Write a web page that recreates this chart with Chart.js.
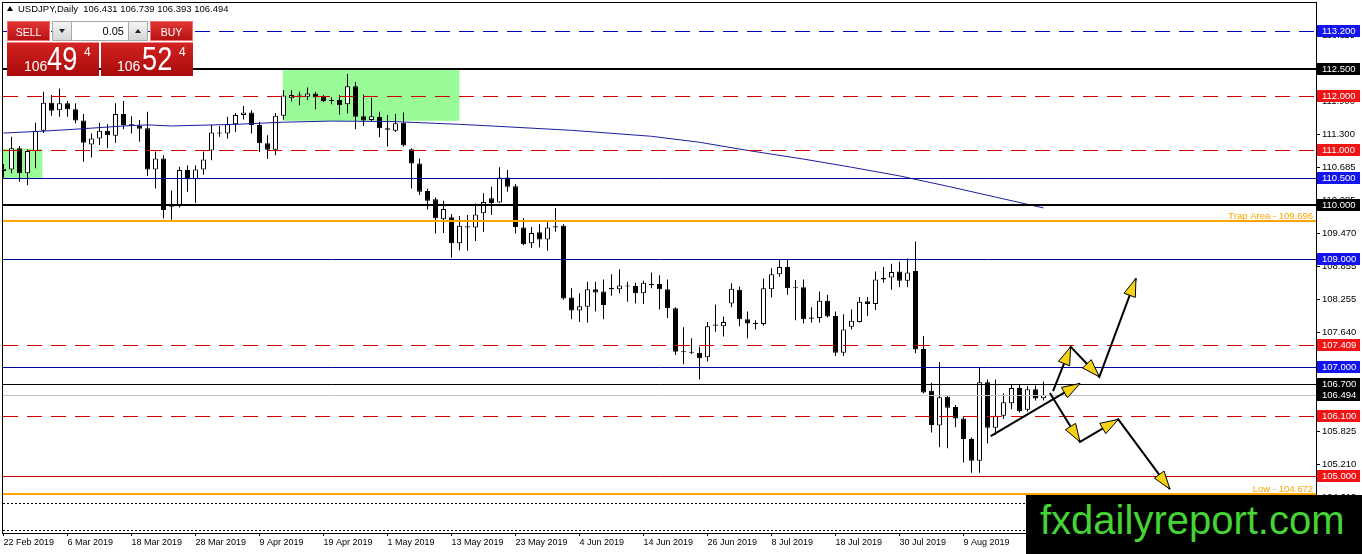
<!DOCTYPE html>
<html>
<head>
<meta charset="utf-8">
<title>USDJPY Daily</title>
<script src="https://cdn.jsdelivr.net/npm/chart.js@4.4.1/dist/chart.umd.min.js"></script>
<style>
  html, body { margin: 0; padding: 0; background: #fff; overflow: hidden; }
  #wrap { position: relative; width: 1362px; height: 554px; font-family: 'Liberation Sans', Arial, sans-serif; }
  canvas { display: block; }
  .abs { position: absolute; white-space: nowrap; }
  #title { left: 18px; top: 4px; font-size: 9.5px; line-height: 9.5px; color: #000; }
  #titleIcon { left: 7px; top: 6px; width: 0; height: 0; border-left: 3px solid transparent; border-right: 3px solid transparent; border-bottom: 5px solid #000; }
  .btn { top: 21px; height: 20px; width: 43px; color: #fff; font-size: 10.5px; line-height: 20px; text-align: center;
         background: linear-gradient(#e23434, #b51212); border: 1px solid #f07070; box-sizing: border-box; }
  .spin { top: 21px; width: 20px; height: 20px; background: linear-gradient(#f4f4f4, #d6d6d6); border: 1px solid #a8a8a8; box-sizing: border-box; }
  .spin i { position: absolute; left: 6px; width: 0; height: 0; border-left: 3px solid transparent; border-right: 3px solid transparent; }
  #lot { left: 72px; top: 21px; width: 56px; height: 20px; background: #fff; border-top: 1px solid #a8a8a8; border-bottom: 1px solid #a8a8a8; box-sizing: border-box;
         font-size: 11px; line-height: 18px; text-align: right; padding-right: 4px; color: #000; }
  .quote { top: 42px; width: 92px; height: 34px; background: linear-gradient(#d42222, #a80a0a); border-top: 1px solid #f08a8a; box-sizing: border-box; color: #fff; }
  .quote span { position: absolute; white-space: nowrap; }
  .fig { font-size: 14px; line-height: 14px; top: 16px; }
  .pips { font-size: 34px; line-height: 34px; top: -2px; transform: scaleX(0.8); transform-origin: left top; }
  .pt { font-size: 12px; line-height: 12px; top: 3px; }
  #mark { left: 1026px; top: 495px; width: 336px; height: 59px; background: #000; }
  #mark span { position: absolute; left: 14px; top: 5px; font-size: 40px; line-height: 40px; color: #45d435; }
</style>
</head>
<body>
<div id="wrap">
  <canvas id="usdjpyChart" width="1362" height="554"></canvas>

  <div id="titleIcon" class="abs"></div>
  <div id="title" class="abs">USDJPY,Daily&nbsp; 106.431 106.739 106.393 106.494</div>

  <div class="abs btn" style="left:7px;">SELL</div>
  <div class="abs spin" style="left:52px;"><i style="top:7px; border-top:4px solid #222;"></i></div>
  <div id="lot" class="abs">0.05</div>
  <div class="abs spin" style="left:128px;"><i style="top:7px; border-bottom:4px solid #222;"></i></div>
  <div class="abs btn" style="left:150px;">BUY</div>

  <div class="abs quote" style="left:7px;">
    <span class="fig" style="left:17px;">106</span>
    <span class="pips" style="left:40px;">49</span>
    <span class="pt" style="left:77px;">4</span>
  </div>
  <div class="abs quote" style="left:101px;">
    <span class="fig" style="left:16px;">106</span>
    <span class="pips" style="left:41px;">52</span>
    <span class="pt" style="left:78px;">4</span>
  </div>

  <div id="mark" class="abs"><span>fxdailyreport.com</span></div>
</div>

<script>
// --- DATOS (velas diarias USDJPY, 22 Feb 2019 - 23 Aug 2019) ---
const opens = [
  110.62, 110.65, 111.04, 110.58, 110.99, 111.36, 111.88, 111.74, 111.87, 111.76,
  111.55, 111.11, 111.22, 111.36, 111.27, 111.67, 111.48, 111.45, 111.41, 110.65,
  110.85, 109.96, 109.97, 110.64, 110.47, 110.65, 111.00, 111.33, 111.31, 111.48,
  111.65, 111.70, 111.47, 111.13, 111.01, 111.64, 111.96, 112.01, 111.99, 112.05,
  111.99, 111.92, 111.93, 111.85, 112.18, 111.63, 111.56, 111.62, 111.41, 111.36,
  111.51, 111.02, 110.76, 110.25, 110.10, 109.73, 109.77, 109.29, 109.60, 109.58,
  109.84, 110.12, 110.04, 110.50, 110.34, 109.58, 109.29, 109.49, 109.36, 109.58,
  109.61, 108.29, 108.05, 108.12, 108.44, 108.40, 108.47, 108.44, 108.51, 108.50,
  108.37, 108.54, 108.54, 108.44, 108.09, 107.30, 107.29, 107.27, 107.19, 107.77,
  107.76, 108.18, 108.43, 107.89, 107.80, 107.80, 108.44, 108.72, 108.85, 108.48,
  108.48, 107.90, 107.91, 108.23, 107.95, 107.27, 107.75, 107.84, 108.22, 108.17,
  108.62, 108.66, 108.77, 108.60, 108.78, 107.34, 106.57, 105.93, 106.46, 106.27,
  106.06, 105.68, 105.28, 106.73, 105.89, 106.11, 106.34, 106.62, 106.22, 106.60,
  106.431
];
const highs = [
  110.75, 111.25, 111.08, 111.02, 111.51, 112.08, 112.02, 112.14, 111.91, 111.87,
  111.67, 111.31, 111.51, 111.48, 111.87, 111.91, 111.63, 111.56, 111.71, 110.98,
  110.91, 110.26, 110.70, 110.72, 110.72, 110.98, 111.47, 111.45, 111.62, 111.69,
  111.82, 111.74, 111.53, 111.28, 111.69, 112.11, 112.11, 112.08, 112.16, 112.08,
  112.02, 111.98, 112.02, 112.41, 112.26, 112.03, 111.97, 111.71, 111.65, 111.67,
  111.70, 111.04, 110.85, 110.30, 110.13, 110.07, 109.83, 109.79, 109.81, 110.02,
  110.21, 110.33, 110.69, 110.64, 110.38, 109.75, 109.59, 109.64, 109.69, 109.94,
  109.64, 108.46, 108.37, 108.58, 108.58, 108.62, 108.72, 108.81, 108.58, 108.56,
  108.60, 108.75, 108.70, 108.62, 108.11, 107.74, 107.54, 107.38, 107.84, 108.16,
  107.94, 108.55, 108.49, 108.03, 107.87, 108.64, 108.83, 108.99, 108.99, 108.61,
  108.62, 108.11, 108.40, 108.34, 108.03, 107.98, 108.07, 108.30, 108.30, 108.77,
  108.85, 108.91, 108.95, 109.01, 109.32, 107.58, 106.72, 107.10, 106.48, 106.31,
  106.10, 105.71, 107.00, 106.78, 106.78, 106.52, 106.69, 106.69, 106.66, 106.67,
  106.739
];
const lows = [
  110.50, 110.58, 110.42, 110.36, 110.67, 111.32, 111.64, 111.62, 111.62, 111.50,
  110.79, 110.87, 111.10, 111.04, 111.14, 111.39, 111.31, 111.16, 110.53, 110.30,
  109.75, 109.72, 109.95, 110.24, 110.03, 110.55, 110.82, 111.25, 111.22, 111.34,
  111.57, 111.31, 110.97, 110.84, 110.91, 111.57, 111.90, 111.83, 111.93, 111.76,
  111.89, 111.85, 111.66, 111.68, 111.39, 111.45, 111.53, 111.24, 111.07, 111.34,
  111.07, 110.30, 110.18, 109.91, 109.47, 109.48, 109.02, 109.16, 109.15, 109.33,
  109.50, 109.81, 110.03, 110.24, 109.47, 109.25, 109.20, 109.21, 109.15, 109.50,
  108.25, 107.89, 107.84, 107.83, 108.03, 107.89, 108.32, 108.37, 108.21, 108.18,
  108.17, 108.46, 108.07, 107.91, 107.23, 107.06, 107.25, 106.78, 107.11, 107.66,
  107.57, 108.11, 107.76, 107.54, 107.70, 107.77, 108.29, 108.67, 108.34, 107.87,
  107.81, 107.83, 107.83, 107.92, 107.21, 107.21, 107.70, 107.83, 107.95, 108.06,
  108.56, 108.43, 108.48, 108.48, 107.26, 106.52, 105.80, 105.53, 105.51, 105.90,
  105.25, 105.06, 105.06, 105.60, 105.76, 106.05, 106.23, 106.17, 106.19, 106.39,
  106.393
];
const closes = [
  110.66, 111.04, 110.58, 110.99, 111.36, 111.88, 111.73, 111.87, 111.76, 111.55,
  111.14, 111.22, 111.36, 111.28, 111.67, 111.47, 111.45, 111.40, 110.65, 110.85,
  109.90, 109.99, 110.64, 110.47, 110.65, 110.83, 111.33, 111.31, 111.48, 111.65,
  111.70, 111.47, 111.13, 111.01, 111.64, 112.01, 112.02, 112.03, 112.05, 111.98,
  111.91, 111.91, 111.83, 112.18, 111.62, 111.55, 111.63, 111.41, 111.38, 111.50,
  111.09, 110.76, 110.24, 110.07, 109.75, 109.92, 109.29, 109.61, 109.58, 109.82,
  110.05, 110.03, 110.50, 110.33, 109.59, 109.27, 109.48, 109.36, 109.58, 109.60,
  108.27, 108.05, 108.13, 108.44, 108.38, 108.15, 108.44, 108.51, 108.49, 108.37,
  108.56, 108.52, 108.44, 108.09, 107.29, 107.28, 107.27, 107.17, 107.76, 107.79,
  107.84, 108.45, 107.89, 107.81, 107.82, 108.46, 108.72, 108.85, 108.46, 108.46,
  107.89, 107.92, 108.23, 107.94, 107.27, 107.70, 107.86, 108.21, 108.17, 108.62,
  108.65, 108.76, 108.60, 108.75, 107.33, 106.54, 105.94, 106.45, 106.26, 106.06,
  105.68, 105.28, 106.73, 105.89, 106.11, 106.36, 106.62, 106.20, 106.60, 106.43,
  106.494
];

const maIdx = [0, 5, 10, 15, 18, 21, 29, 35, 41, 49, 57, 61, 71, 81, 87, 93, 100, 106, 112, 118, 124, 130];
const maVal = [111.32, 111.355, 111.40, 111.45, 111.47, 111.45, 111.48, 111.52, 111.54, 111.53, 111.48, 111.45,
               111.37, 111.26, 111.15, 111.00, 110.84, 110.69, 110.53, 110.34, 110.14, 109.94];

// eje de fechas: índice de vela y texto
const dateIdx = [0, 8, 16, 24, 32, 40, 48, 56, 64, 72, 80, 88, 96, 104, 112, 120];
const dateLabels = ['22 Feb 2019', '6 Mar 2019', '18 Mar 2019', '28 Mar 2019', '9 Apr 2019', '19 Apr 2019',
  '1 May 2019', '13 May 2019', '23 May 2019', '4 Jun 2019', '14 Jun 2019', '26 Jun 2019',
  '8 Jul 2019', '18 Jul 2019', '30 Jul 2019', '9 Aug 2019'];

// eje de precios
const priceTicks = [104.61, 105.21, 105.825, 106.425, 107.025, 107.64, 108.255, 108.855,
  109.47, 110.085, 110.685, 111.3, 111.9, 112.5, 113.115];

// niveles horizontales y su tipo
const levelPrices = [113.2, 112.5, 112.0, 111.0, 110.5, 110.0, 109.696, 109.0, 107.409,
  107.0, 106.7, 106.494, 106.1, 105.0, 104.672, 104.5, 104.0];
const levelKinds = ['blueDash', 'blackBold', 'redDash', 'redDash', 'blue', 'blackBold', 'orange', 'blue', 'redDash',
  'blue', 'black', 'bid', 'redDash', 'red', 'orange', 'dot', 'dot'];
const levelNotes = { 109.696: 'Trap Area - 109.696', 104.672: 'Low - 104.672' };

// zonas verdes: [vela desde, vela hasta, precio alto, precio bajo]
const zones = [
  [-1, 4.85, 111.03, 110.49],
  [34.9, 57.0, 112.48, 111.545]
];

// flechas de escenario: puntos (vela, precio)
const arrowPaths = [
  [[123.4, 105.735], [134.56, 106.706]],
  [[131.19, 106.564], [133.4, 107.38], [136.98, 106.828], [141.56, 108.641]],
  [[130.8, 106.528], [134.56, 105.63], [139.35, 106.043], [145.8, 104.76]]
];

// --- ESTILOS ---
const FONT = "'Liberation Sans', Arial, sans-serif";
const lineStyles = {
  blueDash:  { color: '#0000c8', width: 1, dash: [15, 9], box: '#1414f0' },
  blackBold: { color: '#000000', width: 2, dash: [],      box: '#000000' },
  redDash:   { color: '#d20000', width: 1, dash: [15, 9], box: '#f01414' },
  blue:      { color: '#00009c', width: 1, dash: [],      box: '#1414f0' },
  orange:    { color: '#ffa500', width: 2, dash: [],      box: null },
  black:     { color: '#000000', width: 1, dash: [],      box: '#000000' },
  bid:       { color: '#c0c0c0', width: 1, dash: [],      box: '#000000' },
  red:       { color: '#d20000', width: 1, dash: [],      box: '#f01414' },
  dot:       { color: '#000000', width: 1, dash: [2, 2],  box: null }
};

const bodyData = opens.map((o, i) => ({ x: i, y: [o, closes[i]] }));
const wickData = lows.map((l, i) => ({ x: i, y: [l, highs[i]] }));
const maData = maIdx.map((v, i) => ({ x: v, y: maVal[i] }));

function arrowHead(ctx, x0, y0, x1, y1) {
    const ang = Math.atan2(y1 - y0, x1 - x0);
    const len = 18, half = 6;
    const bx = x1 - len * Math.cos(ang), by = y1 - len * Math.sin(ang);
    ctx.beginPath();
    ctx.moveTo(x1, y1);
    ctx.lineTo(bx + half * Math.sin(ang), by - half * Math.cos(ang));
    ctx.lineTo(bx - half * Math.sin(ang), by + half * Math.cos(ang));
    ctx.closePath();
    ctx.fillStyle = '#f5d312';
    ctx.fill();
    ctx.lineWidth = 1;
    ctx.strokeStyle = '#000';
    ctx.stroke();
}

const zonesPlugin = {
    id: 'zones',
    beforeDatasetsDraw(chart) {
        const { ctx, chartArea: a, scales: { x, y } } = chart;
        ctx.save();
        ctx.beginPath();
        ctx.rect(a.left, a.top, a.right - a.left, a.bottom - a.top);
        ctx.clip();
        ctx.fillStyle = '#98fb98';
        zones.forEach(z => {
            const x0 = x.getPixelForValue(z[0]), x1 = x.getPixelForValue(z[1]);
            const y0 = y.getPixelForValue(z[2]), y1 = y.getPixelForValue(z[3]);
            ctx.fillRect(x0, y0, x1 - x0, y1 - y0);
        });
        ctx.restore();
    }
};

const overlayPlugin = {
    id: 'overlay',
    afterDatasetsDraw(chart) {
        const { ctx, chartArea: a, scales: { x, y } } = chart;
        ctx.save();
        ctx.beginPath();
        ctx.rect(a.left, a.top, a.right - a.left, a.bottom - a.top);
        ctx.clip();

        // niveles
        levelPrices.forEach((p, i) => {
            const st = lineStyles[levelKinds[i]];
            const py = Math.round(y.getPixelForValue(p)) + (st.width % 2 ? 0.5 : 0);
            ctx.beginPath();
            ctx.setLineDash(st.dash);
            ctx.lineWidth = st.width;
            ctx.strokeStyle = st.color;
            ctx.moveTo(a.left, py);
            ctx.lineTo(a.right, py);
            ctx.stroke();
            if (levelNotes[p]) {
                ctx.setLineDash([]);
                ctx.fillStyle = '#ffa500';
                ctx.font = '9.5px ' + FONT;
                ctx.textAlign = 'right';
                ctx.textBaseline = 'alphabetic';
                ctx.fillText(levelNotes[p], a.right - 3, py - 2);
            }
        });
        ctx.setLineDash([]);

        // flechas
        arrowPaths.forEach(path => {
            const pts = path.map(pt => [x.getPixelForValue(pt[0]), y.getPixelForValue(pt[1])]);
            ctx.beginPath();
            ctx.lineWidth = 2;
            ctx.strokeStyle = '#000';
            ctx.moveTo(pts[0][0], pts[0][1]);
            for (let k = 1; k < pts.length; k++) ctx.lineTo(pts[k][0], pts[k][1]);
            ctx.stroke();
            for (let k = 1; k < pts.length; k++) {
                arrowHead(ctx, pts[k - 1][0], pts[k - 1][1], pts[k][0], pts[k][1]);
            }
        });
        ctx.restore();

        // marco
        ctx.save();
        ctx.strokeStyle = '#000';
        ctx.lineWidth = 1;
        ctx.strokeRect(a.left - 0.5, a.top - 0.5, a.right - a.left + 1, a.bottom - a.top + 1);
        ctx.restore();
    },
    afterDraw(chart) {
        const { ctx, chartArea: a, scales: { y } } = chart;
        ctx.save();
        ctx.font = '9.5px ' + FONT;
        ctx.textAlign = 'left';
        ctx.textBaseline = 'middle';
        levelPrices.forEach((p, i) => {
            const st = lineStyles[levelKinds[i]];
            if (!st.box) return;
            const py = Math.round(y.getPixelForValue(p));
            ctx.fillStyle = st.box;
            ctx.fillRect(a.right + 1, py - 6, 43, 12);
            ctx.fillStyle = '#fff';
            ctx.fillText(p.toFixed(3), a.right + 6, py + 0.5);
        });
        ctx.restore();
    }
};

new Chart(document.getElementById('usdjpyChart'), {
    type: 'bar',
    data: {
        datasets: [
            {
                type: 'line',
                label: 'MA',
                data: maData,
                borderColor: '#1c1ca0',
                borderWidth: 1,
                pointRadius: 0,
                tension: 0,
                order: 0
            },
            {
                label: 'Cuerpo',
                data: bodyData,
                grouped: false,
                barThickness: 5,
                minBarLength: 1,
                borderWidth: 1,
                borderSkipped: false,
                inflateAmount: 0,
                borderColor: '#000',
                backgroundColor: c => (closes[c.dataIndex] >= opens[c.dataIndex] ? '#ffffff' : '#000000'),
                order: 1
            },
            {
                label: 'Mecha',
                data: wickData,
                grouped: false,
                barThickness: 1,
                borderWidth: 0,
                inflateAmount: 0,
                backgroundColor: '#000',
                order: 2
            }
        ]
    },
    options: {
        responsive: false,
        animation: false,
        events: [],
        layout: { padding: { left: 3, top: 3, right: 0, bottom: 0 }, autoPadding: false },
        plugins: { legend: { display: false }, tooltip: { enabled: false } },
        scales: {
            x: {
                type: 'linear',
                min: -0.0625,
                max: 164.0625,
                offset: false,
                grid: { display: true, offset: false, drawOnChartArea: false, tickLength: 3, color: '#000' },
                border: { display: true, color: '#000' },
                afterBuildTicks: s => { s.ticks = dateIdx.map(v => ({ value: v })); },
                afterFit: s => { s.height = 21; s.paddingLeft = 0; s.paddingRight = 0; },
                ticks: {
                    autoSkip: false, maxRotation: 0, minRotation: 0, align: 'start', padding: 1,
                    color: '#000', font: { family: FONT, size: 9 },
                    callback: (v, i) => dateLabels[i]
                }
            },
            y: {
                type: 'linear',
                position: 'right',
                min: 103.95,
                max: 113.716,
                beginAtZero: false,
                grid: { drawOnChartArea: false, tickLength: 4, color: '#000' },
                border: { display: true, color: '#000' },
                afterBuildTicks: s => { s.ticks = priceTicks.map(v => ({ value: v })); },
                afterFit: s => { s.width = 46; s.paddingTop = 0; s.paddingBottom = 0; },
                ticks: {
                    crossAlign: 'near', padding: 2, color: '#000',
                    font: { family: FONT, size: 9.5 },
                    callback: v => Number(v).toFixed(3)
                }
            }
        }
    },
    plugins: [zonesPlugin, overlayPlugin]
});
</script>
</body>
</html>
